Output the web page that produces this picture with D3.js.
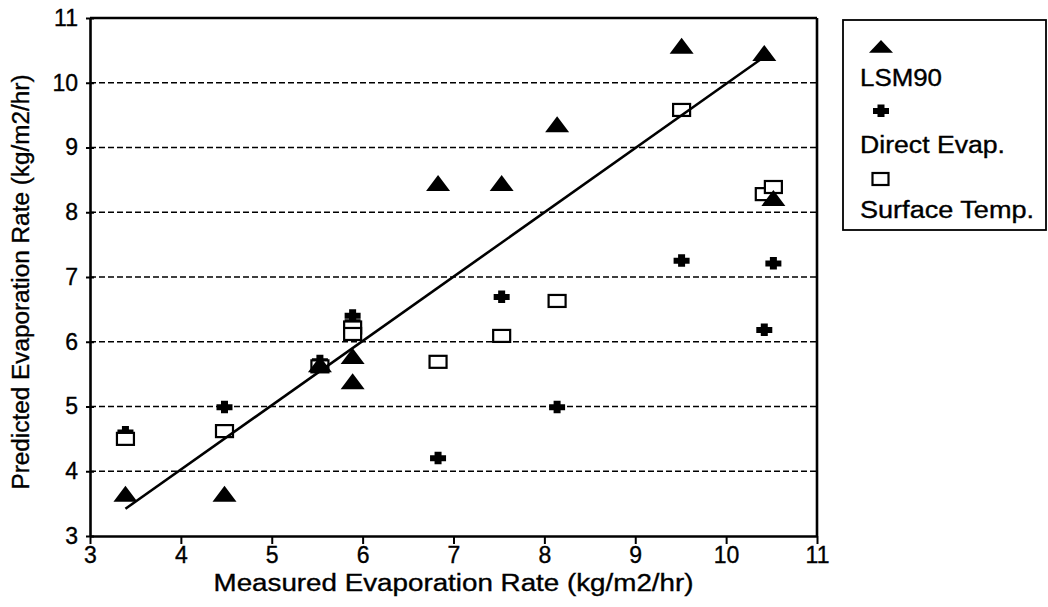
<!DOCTYPE html>
<html>
<head>
<meta charset="utf-8">
<script src="https://cdn.jsdelivr.net/npm/d3@7/dist/d3.min.js"></script>
<style>
  html, body { margin: 0; padding: 0; background: #fff; }
  svg { display: block; }
  text { font-family: "Liberation Sans", Arial, Helvetica, sans-serif; fill: #000; stroke: #000; stroke-width: 0.35px; }
</style>
</head>
<body>
<svg id="chart" width="1048" height="607"></svg>
<script>
// ---- data ----
const measured = [3.39, 4.48, 5.53, 5.89, 5.89, 6.83, 7.53, 8.14, 9.51, 10.42, 10.52];
const lsm90    = [3.62, 3.62, 5.62, 5.75, 5.36, 8.42, 8.42, 9.33, 10.54, 10.43, 8.19];
const direct   = [4.60, 4.99, 5.70, 6.40, 6.30, 4.20, 6.69, 4.99, 7.25, 6.18, 7.21];
const surface  = [4.50, 4.62, 5.62, 6.22, 6.12, 5.69, 6.09, 6.63, 9.58, 8.28, 8.39];
const fitX = [3.39, 10.48];
const fitY = [3.42, 10.46];
const xTicks = [3, 4, 5, 6, 7, 8, 9, 10, 11];
const yTicks = [3, 4, 5, 6, 7, 8, 9, 10, 11];
const gridTicks = [4, 5, 6, 7, 8, 9, 10];
const seriesNames = ["LSM90", "Direct Evap.", "Surface Temp."];
const xTitle = "Measured Evaporation Rate (kg/m2/hr)";
const yTitle = "Predicted Evaporation Rate (kg/m2/hr)";

// ---- layout ----
const svg = d3.select("#chart");
const x = d3.scaleLinear().domain([3, 11]).range([90, 817]);
const y = d3.scaleLinear().domain([3, 11]).range([536, 18]);

const triPath = "M0,-10L12,6L-12,6Z";
const crossPath = "M-3.5,-6.5H3.5V-3H8V3H3.5V6H-3.5V3H-8V-3H-3.5Z";

// gridlines
svg.append("g").selectAll("line").data(gridTicks).join("line")
  .attr("x1", x(3)).attr("x2", x(11))
  .attr("y1", d => y(d)).attr("y2", d => y(d))
  .attr("stroke", "#000").attr("stroke-width", 1.7)
  .attr("stroke-dasharray", "6,3");

// top & right frame
svg.append("line").attr("x1", x(3)).attr("x2", x(11)).attr("y1", y(11)).attr("y2", y(11))
  .attr("stroke", "#000").attr("stroke-width", 2.6);
svg.append("line").attr("x1", x(11)).attr("x2", x(11)).attr("y1", y(11)).attr("y2", y(3))
  .attr("stroke", "#000").attr("stroke-width", 2.6);

// axes
const gx = svg.append("g").attr("transform", `translate(0,${y(3)})`)
  .call(d3.axisBottom(x).tickValues(xTicks).tickFormat(d3.format("d")).tickSize(8).tickSizeOuter(0).tickPadding(3));
const gy = svg.append("g").attr("transform", `translate(${x(3)},0)`)
  .call(d3.axisLeft(y).tickValues(yTicks).tickFormat(d3.format("d")).tickSize(4).tickSizeOuter(0).tickPadding(8));
[gx, gy].forEach(g => {
  g.select(".domain").attr("stroke", "#000").attr("stroke-width", 2.6);
  g.selectAll(".tick line").attr("stroke", "#000").attr("stroke-width", 2);
  g.selectAll(".tick text").style("font-size", "23px").attr("fill", "#000");
});
gx.selectAll(".tick text").attr("dy", "0.68em");
gy.selectAll(".tick line").attr("x1", 4);

// axis titles
svg.append("text").attr("x", (x(3) + x(11)) / 2).attr("y", 591)
  .attr("text-anchor", "middle").style("font-size", "23px")
  .attr("textLength", 480).attr("lengthAdjust", "spacingAndGlyphs").text(xTitle);
svg.append("text").attr("transform", `translate(29,${(y(3) + y(11)) / 2 + 5}) rotate(-90)`)
  .attr("text-anchor", "middle").style("font-size", "23px")
  .attr("textLength", 415).attr("lengthAdjust", "spacingAndGlyphs").text(yTitle);

// markers
const idx = d3.range(measured.length);
svg.append("g").selectAll("path").data(idx).join("path")
  .attr("d", crossPath).attr("fill", "#000")
  .attr("transform", i => `translate(${x(measured[i])},${y(direct[i])})`);
svg.append("g").selectAll("rect").data(idx).join("rect")
  .attr("x", i => x(measured[i]) - 8.5).attr("y", i => y(surface[i]) - 6)
  .attr("width", 17).attr("height", 12)
  .attr("fill", "#fff").attr("stroke", "#000").attr("stroke-width", 2.2);
svg.append("g").selectAll("path").data(idx).join("path")
  .attr("d", triPath).attr("fill", "#000")
  .attr("transform", i => `translate(${x(measured[i])},${y(lsm90[i])})`);

// fit line
svg.append("path")
  .datum(d3.zip(fitX, fitY))
  .attr("d", d3.line().x(d => x(d[0])).y(d => y(d[1])))
  .attr("fill", "none").attr("stroke", "#000").attr("stroke-width", 2.6);

// legend
const lg = svg.append("g");
lg.append("rect").attr("x", 843).attr("y", 20).attr("width", 203).attr("height", 210)
  .attr("fill", "none").attr("stroke", "#000").attr("stroke-width", 1.8);
const legY = [47, 111, 179];
const legTextY = [86, 153, 218];
const legLen = [82, 145, 174];
lg.append("path").attr("d", triPath).attr("fill", "#000").attr("transform", `translate(881,${legY[0] + 1}) scale(1,0.8)`);
lg.append("path").attr("d", crossPath).attr("fill", "#000").attr("transform", `translate(881,${legY[1]})`);
lg.append("rect").attr("x", 872.5).attr("y", legY[2] - 6).attr("width", 16).attr("height", 12)
  .attr("fill", "#fff").attr("stroke", "#000").attr("stroke-width", 2.2);
lg.selectAll("text.leg").data(seriesNames).join("text").attr("class", "leg")
  .attr("x", 860).attr("y", (d, i) => legTextY[i])
  .style("font-size", "23px")
  .attr("textLength", (d, i) => legLen[i]).attr("lengthAdjust", "spacingAndGlyphs")
  .text(d => d);
</script>
</body>
</html>
